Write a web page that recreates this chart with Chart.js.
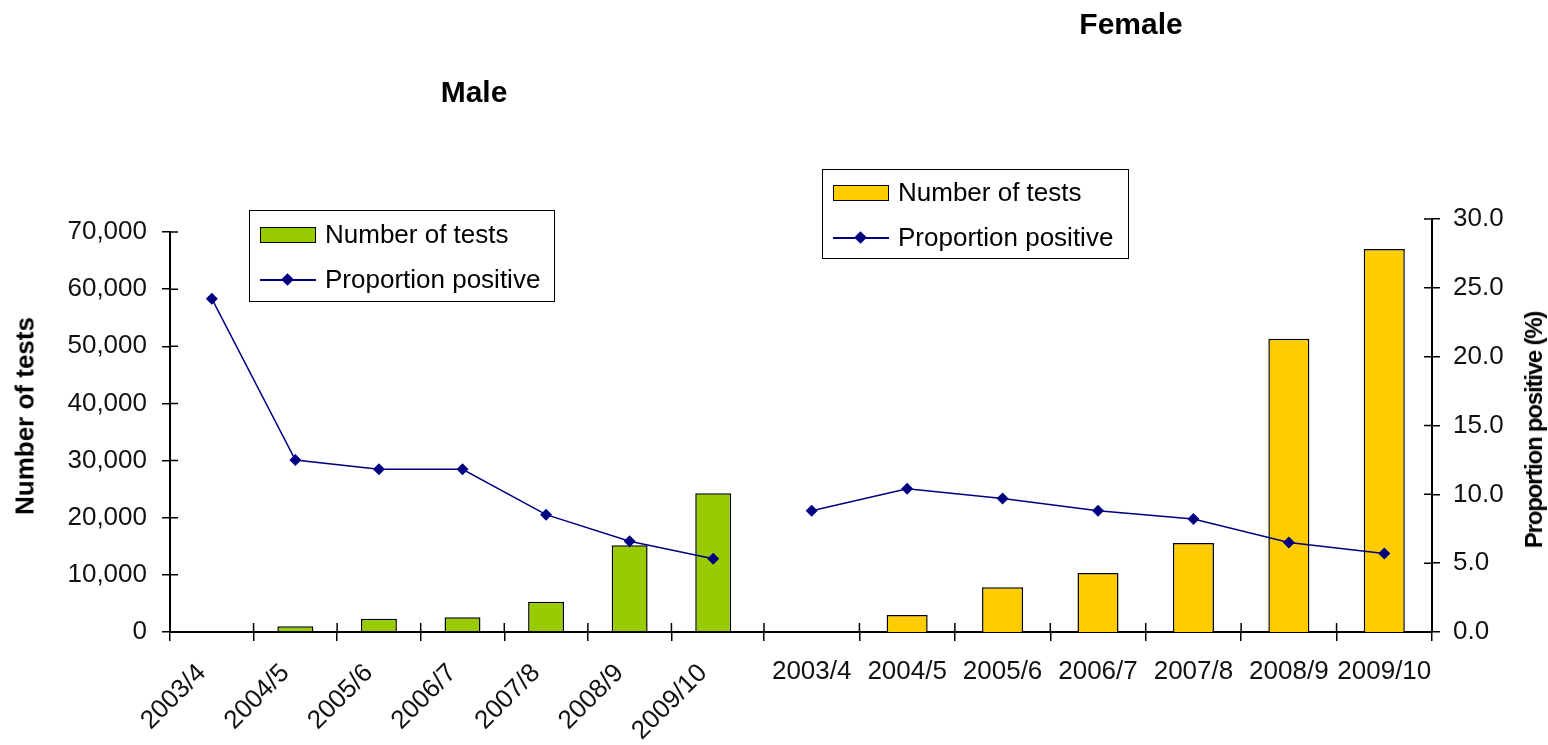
<!DOCTYPE html>
<html>
<head>
<meta charset="utf-8">
<script src="https://cdn.jsdelivr.net/npm/chart.js@4.4.0/dist/chart.umd.min.js"></script>
<style>
  body { margin: 0; background: #fff; width: 1548px; height: 745px; position: relative; overflow: hidden;
         font-family: Arial, "Liberation Sans", sans-serif; }
  canvas { position: absolute; top: 0; }
  #maleChart { left: 0; }
  #femaleChart { left: 714px; }
  .legend { position: absolute; border: 1.5px solid #000; box-sizing: border-box; padding-top: 1px; }
  .legend .row { height: 45px; display: flex; align-items: center; font-size: 26px; color: #000; white-space: nowrap; }
  .legend .key { width: 56px; height: 16px; margin: 0 9px 0 10px; position: relative; box-sizing: border-box; flex: none; }
  .legend .key.line::before { content: ''; position: absolute; left: 0; right: 0; top: 7px; height: 2px; background: var(--c); }
  .legend .key.line::after { content: ''; position: absolute; left: 23px; top: 3px; width: 9px; height: 9px; background: var(--c); transform: rotate(45deg); }
  .axis-title { position: absolute; font-weight: bold; white-space: nowrap; color: #000;
                transform: translate(-50%, -50%) rotate(-90deg); }
</style>
</head>
<body>
<canvas id="maleChart" width="948" height="745"></canvas>
<canvas id="femaleChart" width="834" height="745"></canvas>
<div class="legend" id="maleLegend" style="left:249px; top:210px; width:306px; height:92px;"></div>
<div class="legend" id="femaleLegend" style="left:822px; top:169px; width:307px; height:90px; padding-top:0;"></div>
<div class="axis-title" style="left:25px; top:416px; font-size:26px;">Number of tests</div>
<div class="axis-title" style="left:1534px; top:430px; font-size:24px; letter-spacing:-1.2px;">Proportion positive (%)</div>

<script>
const years = ["2003/4", "2004/5", "2005/6", "2006/7", "2007/8", "2008/9", "2009/10"];

const maleTests = [0, 1000, 2300, 2600, 5300, 15200, 24300];
const maleProportion = [25.0, 12.9, 12.2, 12.2, 8.8, 6.8, 5.5];

const femaleTests = [0, 2900, 7600, 10000, 15100, 49700, 64900];
const femaleProportion = [8.8, 10.4, 9.7, 8.8, 8.2, 6.5, 5.7];

const testTicks = [0, 10000, 20000, 30000, 40000, 50000, 60000, 70000];
const proportionTicks = [0, 5, 10, 15, 20, 25, 30];

const navy = "#000080";
const fontFamily = "Arial, 'Liberation Sans', sans-serif";
const tickFont = { family: fontFamily, size: 26 };

// Excel style tick marks cross the axis, chart.js only draws the outer half
const crossTicks = {
  id: "crossTicks",
  afterDraw(chart, args, opts) {
    const ctx = chart.ctx, area = chart.chartArea, x = chart.scales.x;
    const half = (area.right - area.left) / chart.data.labels.length / 2;
    ctx.save();
    ctx.strokeStyle = "#000";
    ctx.lineWidth = 1.5;
    ctx.beginPath();
    for (let i = opts.firstX; i < chart.data.labels.length; i++) {
      const px = x.getPixelForTick(i) - half;
      ctx.moveTo(px, area.bottom);
      ctx.lineTo(px, area.bottom - 9);
    }
    const y = chart.scales[opts.valueAxis];
    y.ticks.forEach((t, i) => {
      const py = y.getPixelForTick(i);
      if (opts.side === "left") { ctx.moveTo(area.left, py); ctx.lineTo(area.left + 8, py); }
      else { ctx.moveTo(area.right, py); ctx.lineTo(area.right - 8, py); }
    });
    ctx.stroke();
    // female axis line runs on a bit to the left, meeting the male one
    if (opts.extendLeft) {
      ctx.lineWidth = 2;
      ctx.beginPath();
      ctx.moveTo(area.left - opts.extendLeft, area.bottom);
      ctx.lineTo(area.left, area.bottom);
      ctx.stroke();
    }
    ctx.restore();
  }
};

// an axis that only reserves room
function spacer(width, position, min, max) {
  return {
    position: position, min: min, max: max,
    ticks: { display: false }, grid: { display: false }, border: { display: false },
    afterFit: s => { s.width = width; }
  };
}

function barSet(data, colour) {
  return { type: "bar", label: "Number of tests", data: data, yAxisID: "y",
           backgroundColor: colour, borderColor: "#000", borderWidth: 1.5,
           barPercentage: 0.43, categoryPercentage: 1, order: 1 };
}

function lineSet(data) {
  return { type: "line", label: "Proportion positive", data: data, yAxisID: "y1",
           borderColor: navy, backgroundColor: navy, borderWidth: 1.5, tension: 0,
           pointStyle: "rectRot", pointRadius: 6, pointBorderWidth: 0, order: 0 };
}

function title(text, top, bottom) {
  return { display: true, text: text, color: "#000",
           font: { family: fontFamily, size: 30, weight: "bold" },
           padding: { top: top, bottom: bottom } };
}

let maleChart = new Chart(document.getElementById("maleChart"), {
  type: "bar",
  data: {
    labels: years,
    datasets: [barSet(maleTests, "#99CC00"), lineSet(maleProportion)]
  },
  options: {
    responsive: false,
    animation: false,
    plugins: {
      legend: { display: false },
      tooltip: { enabled: false },
      title: title("Male", 76, 120),
      crossTicks: { firstX: 1, valueAxis: "y", side: "left" }
    },
    scales: {
      x: {
        // no mark on the last boundary, the female axis starts there
        grid: { offset: true, drawOnChartArea: false, tickLength: 9, lineWidth: 1.5,
                color: c => c.type === "tick" ? "#000" : "rgba(0,0,0,0)" },
        border: { color: "#000", width: 2 },
        ticks: { autoSkip: false, minRotation: 45, maxRotation: 45, font: tickFont, color: "#111", labelOffset: -10, padding: 17 },
        afterFit: s => { s.height = 113; }
      },
      y: {
        min: 0, max: 70000,
        afterBuildTicks: s => { s.ticks = testTicks.map(v => ({ value: v })); },
        ticks: { font: tickFont, color: "#111", padding: 15, callback: v => v.toLocaleString("en-US") },
        grid: { drawOnChartArea: false, tickLength: 8, lineWidth: 1.5, color: "#000" },
        border: { color: "#000", width: 2 },
        afterFit: s => { s.width = 170; }
      },
      y1: spacer(193, "right", 0, 30)
    }
  },
  plugins: [crossTicks]
});

let femaleChart = new Chart(document.getElementById("femaleChart"), {
  type: "bar",
  data: {
    labels: years,
    datasets: [barSet(femaleTests, "#FFCC00"), lineSet(femaleProportion)]
  },
  options: {
    responsive: false,
    animation: false,
    plugins: {
      legend: { display: false },
      tooltip: { enabled: false },
      title: title("Female", 8, 175),
      crossTicks: { firstX: 0, valueAxis: "y1", side: "right", extendLeft: 22 }
    },
    scales: {
      x: {
        grid: { offset: true, drawOnChartArea: false, tickLength: 9, lineWidth: 1.5, color: "#000" },
        border: { color: "#000", width: 2 },
        ticks: { autoSkip: false, minRotation: 0, maxRotation: 0, font: tickFont, color: "#111", padding: 15 },
        afterFit: s => { s.height = 113; }
      },
      y: spacer(50, "left", 0, 70000),
      y1: {
        position: "right", min: 0, max: 30,
        afterBuildTicks: s => { s.ticks = proportionTicks.map(v => ({ value: v })); },
        ticks: { font: tickFont, color: "#111", padding: 13, callback: v => v.toFixed(1) },
        grid: { drawOnChartArea: false, tickLength: 8, lineWidth: 1.5, color: "#000" },
        border: { color: "#000", width: 2 },
        afterFit: s => { s.width = 116; }
      }
    }
  },
  plugins: [crossTicks]
});

function buildLegend(chart, box) {
  chart.data.datasets.forEach(ds => {
    const row = document.createElement("div");
    row.className = "row";
    const key = document.createElement("span");
    key.className = "key";
    if (ds.type === "bar") {
      key.style.background = ds.backgroundColor;
      key.style.border = "1.5px solid " + ds.borderColor;
    } else {
      key.classList.add("line");
      key.style.setProperty("--c", ds.borderColor);
    }
    row.appendChild(key);
    row.appendChild(document.createTextNode(ds.label));
    box.appendChild(row);
  });
}

buildLegend(maleChart, document.getElementById("maleLegend"));
buildLegend(femaleChart, document.getElementById("femaleLegend"));
</script>
</body>
</html>
